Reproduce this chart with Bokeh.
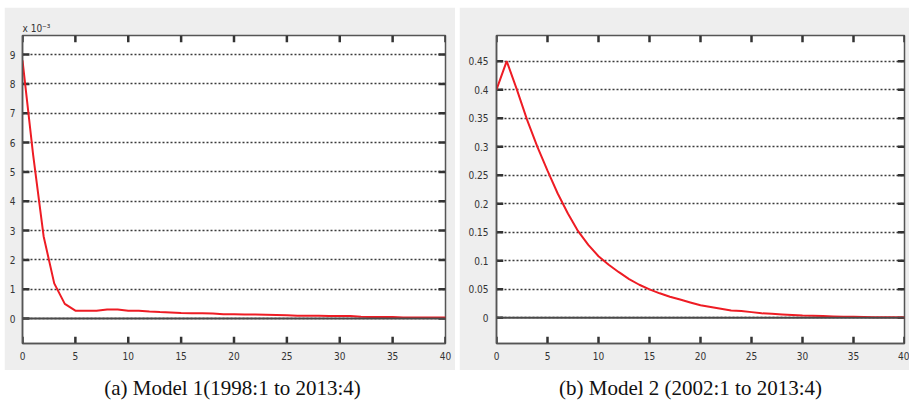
from bokeh.plotting import figure
from bokeh.models import (Range1d, Span, Label, FixedTicker, Spacer)
from bokeh.layouts import row, column
from bokeh.embed import file_html
from bokeh.resources import INLINE

# ---------------- data ----------------
horizon = list(range(0, 41))

# Model 1 response (units of 1e-3)
model1 = [8.8, 5.6, 2.8, 1.2, 0.5, 0.27, 0.27, 0.27, 0.31, 0.31,
          0.27, 0.27, 0.24, 0.22, 0.21, 0.19, 0.18, 0.18, 0.17, 0.15,
          0.15, 0.14, 0.14, 0.13, 0.12, 0.11, 0.10, 0.10, 0.10, 0.09,
          0.09, 0.09, 0.06, 0.05, 0.05, 0.05, 0.04, 0.04, 0.04, 0.04, 0.04]

# Model 2 response
model2 = [0.40, 0.45, 0.40, 0.347, 0.30, 0.258, 0.218, 0.183, 0.152, 0.128,
          0.108, 0.093, 0.080, 0.068, 0.058, 0.050, 0.043, 0.037, 0.032, 0.027,
          0.022, 0.019, 0.016, 0.013, 0.012, 0.010, 0.008, 0.007, 0.006, 0.005,
          0.004, 0.0035, 0.003, 0.0025, 0.002, 0.002, 0.0015, 0.001, 0.001, 0.001, 0.0005]

x_ticks = [0, 5, 10, 15, 20, 25, 30, 35, 40]
y_ticks_1 = [0, 1, 2, 3, 4, 5, 6, 7, 8, 9]
y_ticks_2 = [0, 0.05, 0.1, 0.15, 0.2, 0.25, 0.3, 0.35, 0.4, 0.45]
y_labels_2 = ["0", "0.05", "0.1", "0.15", "0.2", "0.25", "0.3", "0.35", "0.4", "0.45"]

caption_a = "(a) Model 1(1998:1 to 2013:4)"
caption_b = "(b) Model 2 (2002:1 to 2013:4)"
scale_label = "x 10\u207b\u00b3"

# axis limits
x_lim = (0, 40)
y_lim_1 = (-0.85, 9.65)
y_lim_2 = (-0.045, 0.495)

# ---------------- style ----------------
PANEL_BG = "#eeeeee"
RED = "#ee1c24"
TICK_FONT = "Liberation Sans Narrow, DejaVu Sans Condensed, sans-serif"
AX_COLOR = "#555555"
TICK_COLOR = "#333333"
TICK_FRAC = 0.022   # inward tick length as a fraction of the axis span


def style_panel(p, yticks, ylim, ylabels=None):
    p.background_fill_color = "white"
    p.border_fill_color = PANEL_BG
    p.outline_line_color = AX_COLOR
    p.outline_line_width = 1.5
    p.xgrid.visible = False
    p.ygrid.ticker = FixedTicker(ticks=yticks)
    p.ygrid.grid_line_color = "#3a3a3a"
    p.ygrid.grid_line_width = 1.5
    p.ygrid.grid_line_dash = "2 2"
    p.xaxis.ticker = FixedTicker(ticks=x_ticks)
    p.yaxis.ticker = FixedTicker(ticks=yticks)
    if ylabels is not None:
        p.yaxis.major_label_overrides = {t: l for t, l in zip(yticks, ylabels)}
    for ax in (p.xaxis[0], p.yaxis[0]):
        ax.axis_line_color = AX_COLOR
        ax.axis_line_width = 1.5
        ax.major_tick_in = 0
        ax.major_tick_out = 0
        ax.minor_tick_line_color = None
        ax.major_label_text_font = TICK_FONT
        ax.major_label_text_font_size = "10px"
        ax.major_label_text_color = "#333333"
    p.xaxis.major_label_standoff = 8
    p.yaxis.major_label_standoff = 8
    zero = Span(location=0, dimension="width", line_color="#4a4a4a", line_width=2)
    p.add_layout(zero)
    # inward tick marks on all four sides
    dy = (ylim[1] - ylim[0]) * TICK_FRAC
    dx = (x_lim[1] - x_lim[0]) * TICK_FRAC * 0.75
    n = len(x_ticks)
    p.segment(x0=x_ticks, y0=[ylim[0]] * n, x1=x_ticks, y1=[ylim[0] + dy] * n,
              line_color=TICK_COLOR, line_width=2.5)
    p.segment(x0=x_ticks, y0=[ylim[1]] * n, x1=x_ticks, y1=[ylim[1] - dy] * n,
              line_color=TICK_COLOR, line_width=2.5)
    m = len(yticks)
    p.segment(x0=[x_lim[0]] * m, y0=yticks, x1=[x_lim[0] + dx] * m, y1=yticks,
              line_color=TICK_COLOR, line_width=2.5)
    p.segment(x0=[x_lim[1]] * m, y0=yticks, x1=[x_lim[1] - dx] * m, y1=yticks,
              line_color=TICK_COLOR, line_width=2.5)


# ---------------- left panel ----------------
p1 = figure(width=451, height=363, output_backend="svg", toolbar_location=None,
            x_range=Range1d(*x_lim), y_range=Range1d(*y_lim_1),
            min_border_left=18, min_border_right=10, min_border_top=28,
            min_border_bottom=27)
style_panel(p1, y_ticks_1, y_lim_1)
p1.yaxis.major_label_standoff = 7
p1.title.text = scale_label
p1.title.align = "left"
p1.title.text_font = TICK_FONT
p1.title.text_font_size = "10px"
p1.title.text_font_style = "normal"
p1.title.text_color = "#333333"
p1.title.offset = 0
p1.title.standoff = 3
p1.line(horizon, model1, line_color=RED, line_width=2)

# ---------------- right panel ----------------
p2 = figure(width=450, height=363, output_backend="svg", toolbar_location=None,
            x_range=Range1d(*x_lim), y_range=Range1d(*y_lim_2),
            min_border_left=37, min_border_right=5, min_border_top=14,
            min_border_bottom=27)
style_panel(p2, y_ticks_2, y_lim_2, y_labels_2)
p2.line(horizon, model2, line_color=RED, line_width=2)

# ---------------- captions ----------------
cap = figure(width=913, height=34, output_backend="svg", toolbar_location=None,
             x_range=Range1d(0, 913), y_range=Range1d(0, 34),
             min_border=0, outline_line_color=None)
cap.axis.visible = False
cap.grid.visible = False
cap.background_fill_color = "white"
cap.border_fill_color = "white"
cap.add_layout(Label(x=232, y=17, text=caption_a, text_align="center",
                     text_baseline="middle", text_font="Liberation Serif",
                     text_font_size="21px", text_color="#111111"))
cap.add_layout(Label(x=690, y=17, text=caption_b, text_align="center",
                     text_baseline="middle", text_font="Liberation Serif",
                     text_font_size="21px", text_color="#111111"))

layout = column(
    Spacer(width=913, height=7),
    row(Spacer(width=4, height=363), p1, Spacer(width=4, height=363), p2),
    cap,
)

open("out.html", "w").write(file_html(layout, INLINE))
